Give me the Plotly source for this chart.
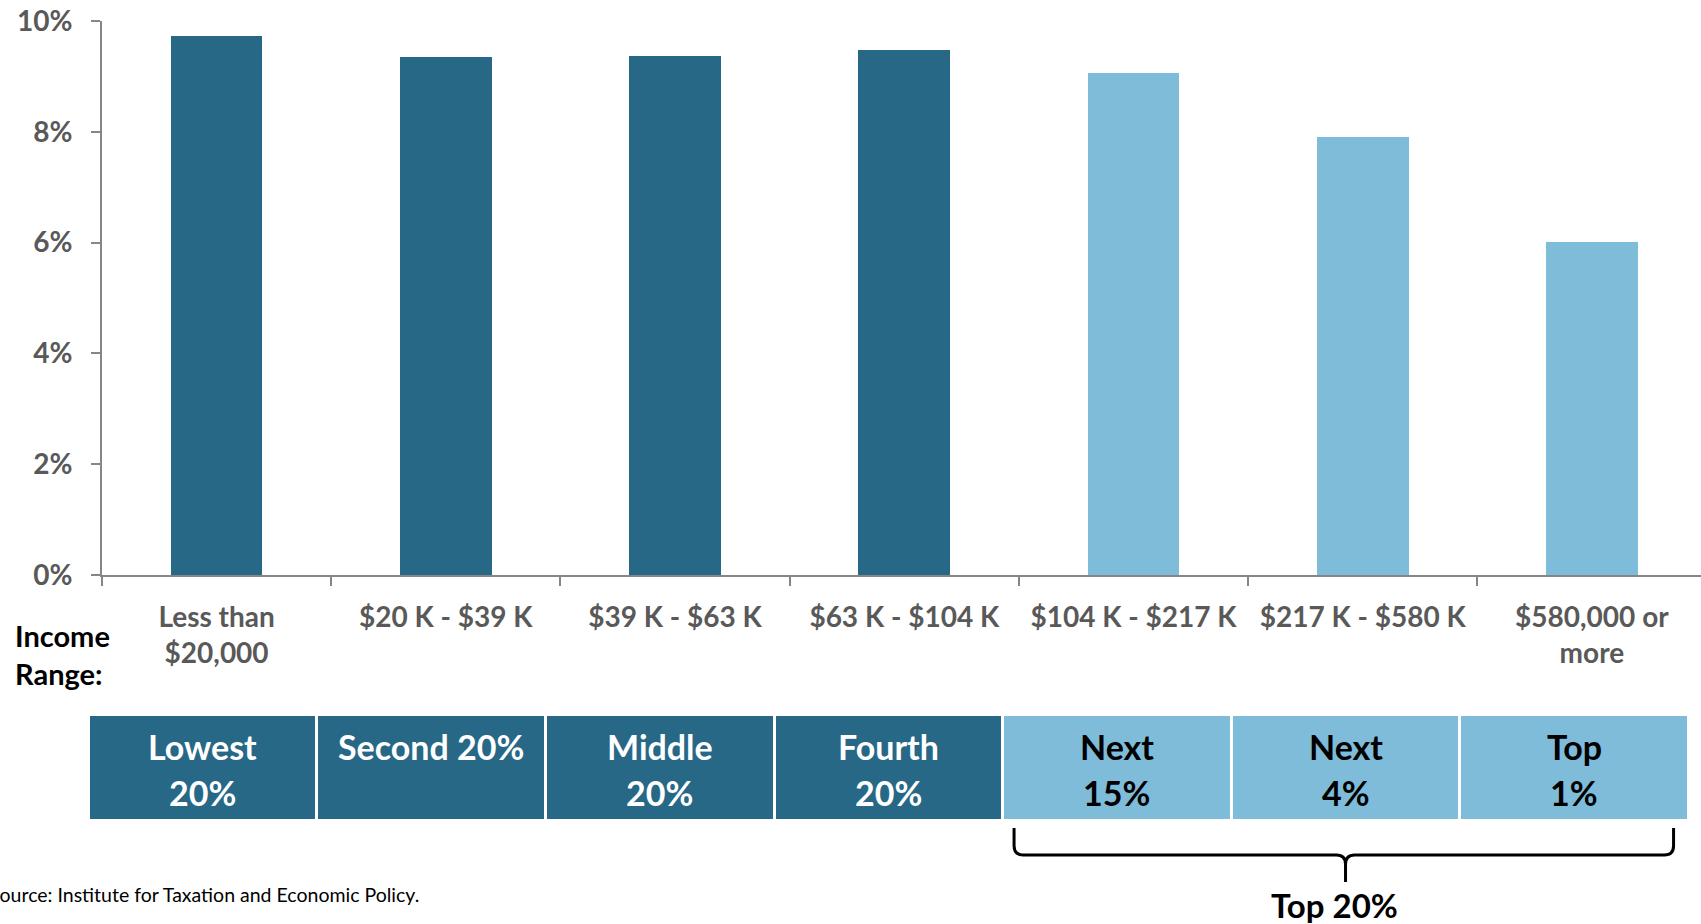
import plotly.graph_objects as go

# income ranges and the effective state/local tax rate (percent of income)
income_ranges = ["Less than<br>$20,000", "$20 K - $39 K", "$39 K - $63 K", "$63 K - $104 K",
                 "$104 K - $217 K", "$217 K - $580 K", "$580,000 or<br>more"]
tax_rate = [9.73, 9.35, 9.37, 9.47, 9.07, 7.91, 6.01]

# income groups shown in the boxes under the chart
group_line1 = ["Lowest", "Second 20%", "Middle", "Fourth", "Next", "Next", "Top"]
group_line2 = ["20%", "", "20%", "20%", "15%", "4%", "1%"]
is_top = [False, False, False, False, True, True, True]

y_ticks = [0, 2, 4, 6, 8, 10]

DARK = "#276886"
LIGHT = "#7EBCD9"
GREY = "#595959"
AXIS = "#868686"
FONT = "Lato"

W, H = 1701, 924
colors = [LIGHT if t else DARK for t in is_top]
box_idx = list(range(len(group_line1)))

fig = go.Figure()

fig.add_trace(go.Bar(x=income_ranges, y=tax_rate, marker_color=colors, width=0.4,
                     marker_line_width=0, xaxis="x", yaxis="y", hoverinfo="x+y"))

fig.add_trace(go.Bar(x=box_idx, y=[1] * len(box_idx), base=0, marker_color=colors,
                     marker_line_width=0, width=0.987, xaxis="x2", yaxis="y2",
                     hoverinfo="skip"))

annotations = []
for i in box_idx:
    fc = "black" if is_top[i] else "white"
    bf = dict(family=FONT, size=34, color=fc, weight="bold")
    annotations.append(dict(x=i, y=0.705, xref="x2", yref="y2", text=group_line1[i],
                            showarrow=False, yanchor="middle", font=bf))
    if group_line2[i]:
        annotations.append(dict(x=i, y=0.26, xref="x2", yref="y2", text=group_line2[i],
                                showarrow=False, yanchor="middle", font=bf))

# brace under the top-20% boxes
first_top = is_top.index(True)
last_top = len(is_top) - 1
xl, xr, xc = first_top - 0.45, last_top + 0.435, (first_top + last_top) / 2
yt, ym, yb = -0.087, -0.35, -0.612
rx, ry = 0.04, 0.09
brace = (f"M {xl},{yt} L {xl},{ym + ry} Q {xl},{ym} {xl + rx},{ym} "
         f"L {xc - rx},{ym} Q {xc},{ym} {xc},{ym - ry} L {xc},{yb} "
         f"M {xc},{ym - ry} Q {xc},{ym} {xc + rx},{ym} "
         f"L {xr - rx},{ym} Q {xr},{ym} {xr},{ym + ry} L {xr},{yt}")
fig.add_shape(type="path", path=brace, xref="x2", yref="y2",
              line=dict(color="black", width=3))

annotations.append(dict(x=xc - 0.05, y=-0.835, xref="x2", yref="y2", text="Top 20%",
                        showarrow=False, yanchor="middle",
                        font=dict(family=FONT, size=33, color="black", weight="bold")))
annotations.append(dict(x=13 / W, y=1 - 654 / H, xref="paper", yref="paper",
                        text="Income<br>Range:", showarrow=False, xanchor="left",
                        yanchor="middle", align="left",
                        font=dict(family=FONT, size=29, color="black", weight="bold")))
annotations.append(dict(x=-13 / W, y=1 - 894 / H, xref="paper", yref="paper",
                        text="Source: Institute for Taxation and Economic Policy.",
                        showarrow=False, xanchor="left", yanchor="middle",
                        font=dict(family=FONT, size=19.5, color="black")))

fig.update_layout(
    width=W, height=H,
    margin=dict(l=0, r=0, t=0, b=0),
    paper_bgcolor="white", plot_bgcolor="white",
    showlegend=False,
    bargap=0,
    font=dict(family=FONT),
    annotations=annotations,
    xaxis=dict(domain=[102 / W, 1], range=[-0.5, 6.476], type="category",
               showline=True, linecolor=AXIS, linewidth=2,
               ticks="outside", tickson="boundaries", ticklen=9, tickcolor=AXIS, tickwidth=2,
               tickfont=dict(family=FONT, size=28, color=GREY, weight="bold"),
               ticklabelstandoff=16,
               showgrid=False, zeroline=False, automargin=False, anchor="y"),
    yaxis=dict(domain=[1 - 575 / H, 1 - 21 / H], range=[0, 10], tickvals=y_ticks,
               ticktext=[f"{v}%" for v in y_ticks],
               showline=True, linecolor=AXIS, linewidth=2,
               ticks="outside", ticklen=9, tickcolor=AXIS, tickwidth=2,
               tickfont=dict(family=FONT, size=28, color=GREY, weight="bold"),
               ticklabelstandoff=13,
               showgrid=False, zeroline=False, automargin=False, anchor="x"),
    xaxis2=dict(domain=[0, 1], range=[-0.886, 6.555], visible=False, anchor="y2"),
    yaxis2=dict(domain=[0, 1 - 716 / H], range=[-1.019, 1], visible=False, anchor="x2"),
)

fig.write_html("out.html", config={"displayModeBar": False},
               post_script="document.body.style.margin='0';")
